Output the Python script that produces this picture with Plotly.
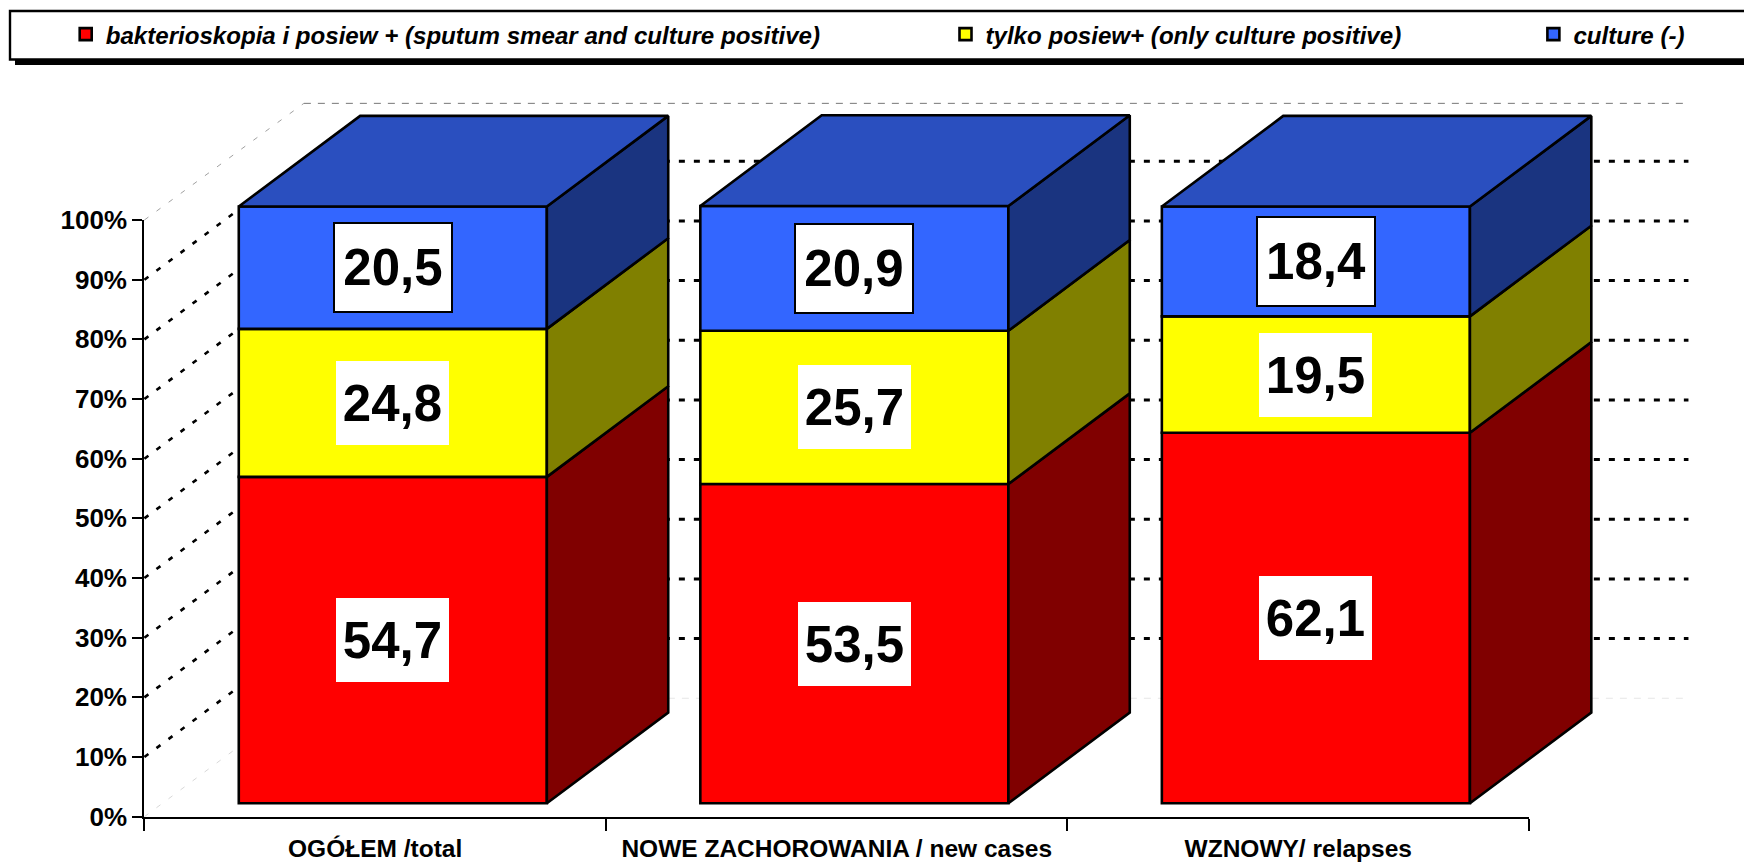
import plotly.graph_objects as go

# ---- data ----
categories = ["OGÓŁEM /total", "NOWE ZACHOROWANIA / new cases", "WZNOWY/ relapses"]
series_names = [
    "bakterioskopia i posiew + (sputum smear and culture positive)",
    "tylko posiew+ (only culture positive)",
    "culture (-)",
]
smear_culture = [54.7, 53.5, 62.1]
culture_only = [24.8, 25.7, 19.5]
culture_neg = [20.5, 20.9, 18.4]
y_ticks = [0, 10, 20, 30, 40, 50, 60, 70, 80, 90, 100]
y_tick_labels = ["0%", "10%", "20%", "30%", "40%", "50%", "60%", "70%", "80%", "90%", "100%"]

# ---- styles ----
front_colors = ["#FF0000", "#FFFF00", "#3366FF"]
side_colors = ["#800000", "#808000", "#1A3480"]
top_color = "#2A4FBF"
FONT = "Liberation Sans, Arial, sans-serif"
W, H = 1744, 862
L, R, T, B = 144.4, 1529.0, 220.0, 816.7
n = len(categories)
OUTLINE = 2.6

# 3D projection, in axis units
BAR_L, BAR_W = 0.2045, 0.6675
FRONT_DY = 2.25
BAR_DX, BAR_DY = 0.263, 15.2
WALL_DX, WALL_DY = 0.3455, 19.85
WALL_TOP_DY = 19.55

padding = ["\u00a0" * 18, "\u00a0" * 19, ""]

# the marks live on a page-wide hidden subplot sharing the scale of the visible axes
ux = (R - L) / n
uy = (B - T) / 100
full_x = [-L / ux, (W - L) / ux]
full_y = [-(H - B) / uy, B / uy]

fig = go.Figure()

series = [smear_culture, culture_only, culture_neg]
bases = [[0.0] * n, smear_culture, [a + b for a, b in zip(smear_culture, culture_only)]]

# walls: drawn as below-layer shapes so that the bars cover them
shapes = []


def wall(x0, y0, x1, y1, color, width, dash):
    shapes.append(dict(type="line", xref="x", yref="y", x0=x0, y0=y0, x1=x1, y1=y1, layer="below",
                       line=dict(color=color, width=width, dash=dash)))


for v in y_ticks:
    if 0 < v < 100:
        wall(0, v, WALL_DX, v + WALL_DY, "#000000", 2.6, "5px,10px")
        wall(WALL_DX, v + WALL_DY, n + WALL_DX, v + WALL_DY, "#000000", 3, "6px,9px")
    elif v == 100:
        wall(0, v, WALL_DX, v + WALL_TOP_DY, "#a0a0a0", 1, "5px,10px")
        wall(WALL_DX, v + WALL_TOP_DY, n + WALL_DX, v + WALL_TOP_DY, "#777777", 1, "7px,7px")
    else:
        wall(0, v, WALL_DX, v + WALL_DY, "#d8d8d8", 1, "5px,10px")
        wall(WALL_DX, v + WALL_DY, n + WALL_DX, v + WALL_DY, "#e6e6e6", 1, "7px,7px")

# front faces
centers = [i + BAR_L + BAR_W / 2 for i in range(n)]
for s, vals in enumerate(series):
    fig.add_trace(go.Bar(x=centers, y=vals, base=[b + FRONT_DY for b in bases[s]],
                         width=BAR_W, name=series_names[s] + padding[s], xaxis="x", yaxis="y",
                         marker=dict(color=front_colors[s], line=dict(color="#000", width=OUTLINE)),
                         hoverinfo="skip"))

# side + top faces
for i in range(n):
    xr = i + BAR_L + BAR_W
    for s, vals in enumerate(series):
        a = bases[s][i] + FRONT_DY
        b = a + vals[i]
        fig.add_trace(go.Scatter(
            x=[xr, xr + BAR_DX, xr + BAR_DX, xr, xr],
            y=[a, a + BAR_DY, b + BAR_DY, b, a],
            mode="lines", fill="toself", fillcolor=side_colors[s], xaxis="x", yaxis="y",
            line=dict(color="#000", width=OUTLINE), showlegend=False, hoverinfo="skip"))
    xl = i + BAR_L
    top = bases[2][i] + culture_neg[i] + FRONT_DY
    fig.add_trace(go.Scatter(
        x=[xl, xr, xr + BAR_DX, xl + BAR_DX, xl],
        y=[top, top, top + BAR_DY, top + BAR_DY, top],
        mode="lines", fill="toself", fillcolor=top_color, xaxis="x", yaxis="y",
        line=dict(color="#000", width=OUTLINE), showlegend=False, hoverinfo="skip"))

# empty trace that anchors the visible axes
fig.add_trace(go.Scatter(x=[0], y=[0], mode="none", xaxis="x2", yaxis="y2", showlegend=False, hoverinfo="skip"))

# value labels
annotations = []
for s, vals in enumerate(series):
    for i, v in enumerate(vals):
        blue = s == 2
        annotations.append(dict(
            x=centers[i], y=bases[s][i] + v / 2 + FRONT_DY, xref="x", yref="y",
            text=f"{v:.1f}".replace(".", ","), showarrow=False,
            font=dict(family=FONT, size=51, color="#000", weight="bold"),
            width=116 if blue else 113, height=87 if blue else 84,
            align="center", valign="middle", bgcolor="#fff",
            bordercolor="#000" if blue else "rgba(0,0,0,0)", borderwidth=2 if blue else 0, borderpad=0))


def px(p):
    return p / W


def py(p):
    return 1 - p / H


# legend frame with its drop shadow
shapes = [
    dict(type="rect", xref="paper", yref="paper", x0=px(15), x1=px(1760), y0=py(65), y1=py(20),
         fillcolor="#000", line=dict(width=0), layer="below"),
    dict(type="rect", xref="paper", yref="paper", x0=px(10), x1=px(1760), y0=py(59.5), y1=py(11),
         fillcolor="#fff", line=dict(color="#000", width=2.4), layer="below"),
] + shapes

axis_font = dict(family=FONT, size=26, color="#000", weight="bold")
xdom = [L / W, R / W]
ydom = [1 - B / H, 1 - T / H]

fig.update_layout(
    width=W, height=H, autosize=False,
    margin=dict(l=0, r=0, t=0, b=0, pad=0, autoexpand=False),
    paper_bgcolor="#fff", plot_bgcolor="rgba(0,0,0,0)",
    barmode="overlay", shapes=shapes, annotations=annotations,
    font=dict(family=FONT, color="#000"),
    xaxis=dict(domain=[0, 1], range=full_x, visible=False, fixedrange=True),
    yaxis=dict(domain=[0, 1], range=full_y, visible=False, fixedrange=True),
    xaxis2=dict(domain=xdom, range=[0, n], anchor="y2", showline=True, linecolor="#000", linewidth=2.4,
                showgrid=False, zeroline=False, tickmode="array",
                tickvals=[i + 0.5 for i in range(n)], ticktext=categories, ticks="",
                ticklabelstandoff=9, tickfont=dict(family=FONT, size=24.5, color="#000", weight="bold"),
                minor=dict(tickmode="array", tickvals=list(range(n + 1)), ticks="outside",
                           ticklen=12, tickwidth=2.4, tickcolor="#000", showgrid=False),
                fixedrange=True),
    yaxis2=dict(domain=ydom, range=[0, 100], anchor="x2", showline=True, linecolor="#000", linewidth=2.4,
                showgrid=False, zeroline=False, tickmode="array", tickvals=y_ticks, ticktext=y_tick_labels,
                ticks="outside", ticklen=10, tickwidth=2.4, tickcolor="#000", tickfont=axis_font,
                fixedrange=True),
    legend=dict(orientation="h", x=px(65.7), y=py(34.5),
                xanchor="left", yanchor="middle", bgcolor="rgba(0,0,0,0)", borderwidth=0,
                traceorder="normal", itemclick=False, itemdoubleclick=False,
                font=dict(family=FONT, size=24.1, color="#000", weight="bold", style="italic")),
)

fig.write_html("out.html", config={"displayModeBar": False},
               post_script="document.body.style.margin='0';document.body.style.overflow='hidden';")
